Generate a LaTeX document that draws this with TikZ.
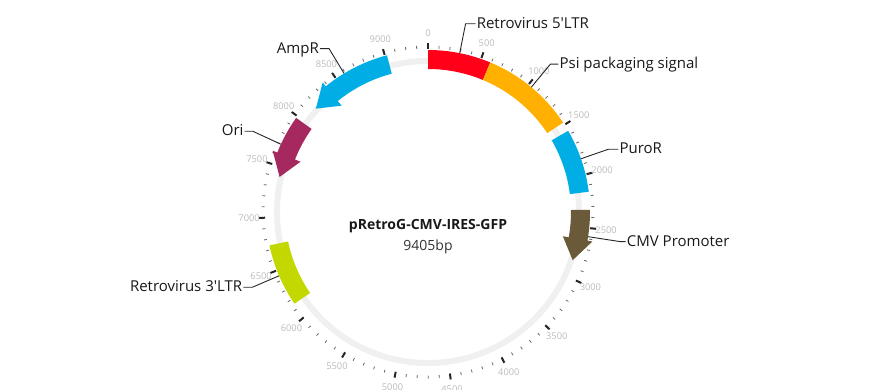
\documentclass[tikz,border=0pt]{standalone}
\usepackage{fontspec}
\setmainfont{Open Sans}
\usepackage{tikz}
\usetikzlibrary{positioning}

\definecolor{ltrred}{HTML}{FF0018}
\definecolor{psiorange}{HTML}{FFB000}
\definecolor{resblue}{HTML}{00ADE5}
\definecolor{cmvbrown}{HTML}{6B5A3A}
\definecolor{ltrgreen}{HTML}{C2D800}
\definecolor{orimaroon}{HTML}{A5295F}
\definecolor{ringgray}{HTML}{F0F0F0}
\definecolor{tickgray}{HTML}{BBBBBB}

% bp -> degrees (9405 bp round the circle)
\newcommand{\bpk}{0.0382775}
% plain block from one position to another
\newcommand{\featblock}[3]{%
  \pgfmathsetmacro\angA{90-#2*\bpk}%
  \pgfmathsetmacro\angE{90-#3*\bpk}%
  \fill[#1] (\angA:143) arc[start angle=\angA, end angle=\angE, radius=143pt]
    -- (\angE:162) arc[start angle=\angE, end angle=\angA, radius=162pt] -- cycle;}
% block with an arrow head at its end (#4 = where the head starts)
\newcommand{\featarrow}[4]{%
  \pgfmathsetmacro\angA{90-#2*\bpk}%
  \pgfmathsetmacro\angH{90-#4*\bpk}%
  \pgfmathsetmacro\angE{90-#3*\bpk}%
  \fill[#1] (\angA:143) arc[start angle=\angA, end angle=\angH, radius=143pt]
    -- (\angH:137) -- (\angE:152.5) -- (\angH:167) -- (\angH:162)
    arc[start angle=\angH, end angle=\angA, radius=162pt] -- cycle;}

\begin{document}
\begin{tikzpicture}[x=1pt, y=1pt,
    lbl/.style={font=\fontsize{15}{17}\selectfont, text=black!90, inner sep=1pt},
    leader/.style={draw=black!85, line width=0.9pt},
    ticklbl/.style={font=\fontsize{9.3}{11}\selectfont, text=tickgray, inner sep=0pt},
    minortick/.style={draw=black!60, line width=0.8pt},
    majortick/.style={draw=black!85, line width=2pt}]

    \useasboundingbox (-428,-177) rectangle (441,212);

    % Backbone
    \draw[ringgray, line width=6pt] (0,0) circle[radius=151pt];

    % Ticks
    \foreach \t in {0,100,...,9400}
        \draw[minortick] ({90-\t*\bpk}:163.5) -- ({90-\t*\bpk}:166.5);
    \foreach \t in {0,500,...,9000}{
        \draw[majortick] ({90-\t*\bpk}:163) -- ({90-\t*\bpk}:169);
        \node[ticklbl] (tk\t) at ({90-\t*\bpk}:179) {\t};
    }

    % Features
    \featblock{ltrred}{0}{590}
    \featblock{psiorange}{590}{1476}
    \featblock{resblue}{1565}{2163}
    \featarrow{cmvbrown}{2330}{2832}{2617}
    \featblock{ltrgreen}{6152}{6742}
    \featarrow{orimaroon}{7980}{7400}{7615}
    \featarrow{resblue}{9020}{8167}{8382}

    % Name
    \node[font=\fontsize{14}{16}\selectfont\bfseries, text=black!90, anchor=base] (name) at (0,-17) {pRetroG-CMV-IRES-GFP};
    \node[font=\fontsize{14}{16}\selectfont, text=black!80, anchor=base] (size) at (0,-38) {9405bp};

    % Labels
    \coordinate (ltr5a) at (78.71:162);
    \coordinate (ltr5b) at (78.71:192);
    \node[lbl, anchor=base west] (ltr5) at ([xshift=10, yshift=-4.5]ltr5b) {Retrovirus 5\textquotesingle LTR};

    \coordinate (psia) at (50.38:162);
    \coordinate (psib) at (50.38:192);
    \node[lbl, anchor=base west] (psi) at ([xshift=8, yshift=-4.5]psib) {Psi packaging signal};

    \coordinate (puroa) at (19.19:162);
    \coordinate (purob) at (19.19:191);
    \node[lbl, anchor=base west] (puro) at ([xshift=10, yshift=-4.5]purob) {PuroR};

    \coordinate (cmva) at (-8.76:162);
    \coordinate (cmvb) at (-8.76:195);
    \node[lbl, anchor=base west] (cmv) at ([xshift=5, yshift=-4.5]cmvb) {CMV Promoter};

    \coordinate (ltr3a) at (203.19:162);
    \coordinate (ltr3b) at (203.19:191);
    \node[lbl, anchor=base east] (ltr3) at ([xshift=-9, yshift=-4.5]ltr3b) {Retrovirus 3\textquotesingle LTR};

    \coordinate (oria) at (155.26:162);
    \coordinate (orib) at (155.26:193);
    \node[lbl, anchor=base east] (ori) at ([xshift=-8, yshift=-4.5]orib) {Ori};

    \coordinate (ampa) at (121.2:162);
    \coordinate (ampb) at (121.2:191);
    \node[lbl, anchor=base east] (amp) at ([xshift=-9, yshift=-4.5]ampb) {AmpR};

    % Leaders
    \draw[leader] (ltr5a) -- (ltr5b) -- (ltr5b -| ltr5.west);
    \draw[leader] (psia) -- (psib) -- (psib -| psi.west);
    \draw[leader] (puroa) -- (purob) -- (purob -| puro.west);
    \draw[leader] (cmva) -- (cmvb) -- (cmvb -| cmv.west);
    \draw[leader] (ltr3a) -- (ltr3b) -- (ltr3b -| ltr3.east);
    \draw[leader] (oria) -- (orib) -- (orib -| ori.east);
    \draw[leader] (ampa) -- (ampb) -- (ampb -| amp.east);

\end{tikzpicture}
\end{document}
